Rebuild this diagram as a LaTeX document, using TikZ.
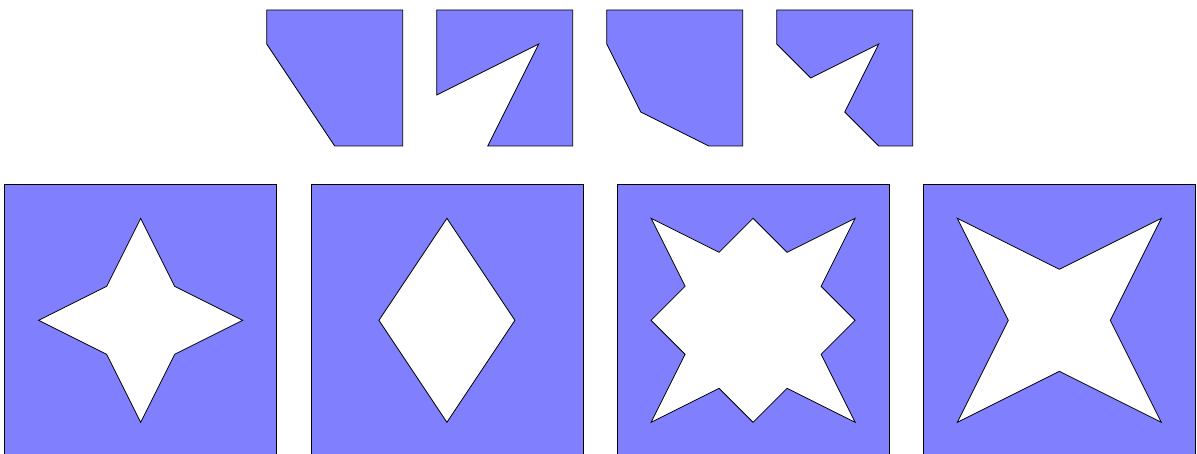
\documentclass[tikz,border=0pt]{standalone}
\definecolor{tilefill}{HTML}{8080FF}
\tikzset{
  tile/.style={fill=tilefill, draw=black, line width=0.8pt, line join=miter},
  hole/.style={fill=white, draw=black, line width=0.8pt, line join=miter}
}
\begin{document}
\begin{tikzpicture}[x=1pt,y=-1pt]
\useasboundingbox (0,0) rectangle (1197,454);
\clip (0,0) rectangle (1197,454);
% top row (unit 34, tile 4x4)
\begin{scope}[shift={(266.7,10)}, x=34pt, y=-34pt]
  \draw[tile] (0,0) -- (4,0) -- (4,4) -- (2,4) -- (0,1) -- cycle;
\end{scope}
\begin{scope}[shift={(436.7,10)}, x=34pt, y=-34pt]
  \draw[tile] (0,0) -- (4,0) -- (4,4) -- (1.5,4) -- (3,1) -- (0,2.5) -- cycle;
\end{scope}
\begin{scope}[shift={(606.7,10)}, x=34pt, y=-34pt]
  \draw[tile] (0,0) -- (4,0) -- (4,4) -- (3,4) -- (1,3) -- (0,1) -- cycle;
\end{scope}
\begin{scope}[shift={(776.7,10)}, x=34pt, y=-34pt]
  \draw[tile] (0,0) -- (4,0) -- (4,4) -- (3,4) -- (2,3) -- (3,1) -- (1,2) -- (0,1) -- cycle;
\end{scope}
% bottom row (tile 8x8)
\begin{scope}[shift={(4.7,184.3)}, x=34pt, y=-34pt]
  \draw[tile] (0,0) rectangle (8,8);
  \draw[hole] (4,1) -- (5,3) -- (7,4) -- (5,5) -- (4,7) -- (3,5) -- (1,4) -- (3,3) -- cycle;
\end{scope}
\begin{scope}[shift={(310.9,184.3)}, x=34pt, y=-34pt]
  \draw[tile] (0,0) rectangle (8,8);
  \draw[hole] (4,1) -- (6,4) -- (4,7) -- (2,4) -- cycle;
\end{scope}
\begin{scope}[shift={(617.1,184.3)}, x=34pt, y=-34pt]
  \draw[tile] (0,0) rectangle (8,8);
  \draw[hole] (1,1) -- (3,2) -- (4,1) -- (5,2) -- (7,1) -- (6,3) -- (7,4) -- (6,5) -- (7,7) -- (5,6) -- (4,7) -- (3,6) -- (1,7) -- (2,5) -- (1,4) -- (2,3) -- cycle;
\end{scope}
\begin{scope}[shift={(923.3,184.3)}, x=34pt, y=-34pt]
  \draw[tile] (0,0) rectangle (8,8);
  \draw[hole] (1,1) -- (4,2.5) -- (7,1) -- (5.5,4) -- (7,7) -- (4,5.5) -- (1,7) -- (2.5,4) -- cycle;
\end{scope}
\end{tikzpicture}
\end{document}
